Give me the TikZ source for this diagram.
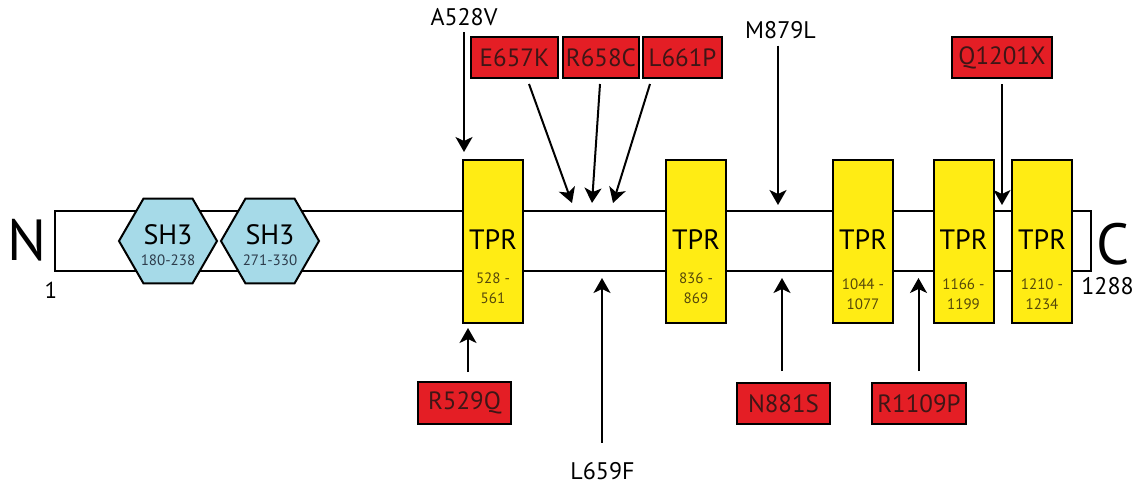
\documentclass[tikz,border=0pt]{standalone}
\usepackage{fontspec}
\setmainfont{PT Sans}
\usetikzlibrary{shapes.geometric,arrows.meta}

\definecolor{dodam}{RGB}{228,30,37}
\definecolor{vang}{RGB}{255,236,20}
\definecolor{xanhnhat}{RGB}{166,218,232}
\definecolor{chudo}{RGB}{62,22,22}
\definecolor{chuvang}{RGB}{85,72,10}
\definecolor{chuxanh}{RGB}{45,60,75}

\tikzset{
  chuoi/.style={draw, line width=1pt, minimum width=518pt, minimum height=30pt, inner sep=0pt},
  miensh/.style={regular polygon, regular polygon sides=6, draw, line width=1pt, fill=xanhnhat, minimum size=49pt, inner sep=0pt},
  mientpr/.style={draw, line width=1pt, fill=vang, minimum width=30pt, minimum height=81.5pt, inner sep=0pt},
  dotbien/.style={draw, line width=1pt, fill=dodam, text=chudo, minimum height=20.5pt, inner sep=0pt, font=\fontsize{12.5}{15}\selectfont},
  nhan/.style={font=\fontsize{12}{14}\selectfont, inner sep=1pt},
  tenmien/.style={font=\fontsize{14}{16}\selectfont, inner sep=0pt},
  vitri/.style={font=\fontsize{7.5}{10}\selectfont, inner sep=0pt, align=center},
  mui/.style={->, line width=1pt},
}

\begin{document}
\begin{tikzpicture}[x=0.5pt, y=-0.5pt, >={Stealth[length=7.5pt,width=8.5pt,inset=2pt]}]
    \useasboundingbox (0,0) rectangle (1136,483);

    % 1. Chuoi protein va hai dau N, C
    \node[chuoi] (chuoi) at (573,241) {};
    \node[font=\fontsize{29}{30}\selectfont, inner sep=0pt] (dauN) at (27.5,240.5) {N};
    \node[font=\fontsize{29}{30}\selectfont, inner sep=0pt] (dauC) at (1113.5,244) {C};
    \node[font=\fontsize{11.5}{13}\selectfont, inner sep=0pt] (so1) at (51,290) {1};
    \node[font=\fontsize{12}{14}\selectfont, inner sep=0pt] (so1288) at (1107.5,286) {1288};

    % 2. Hai mien SH3
    \node[miensh] (sha) at (168,241) {};
    \node[tenmien] at (168,235) {SH3};
    \node[vitri, text=chuxanh] at (168,260.5) {180-238};
    \node[miensh] (shb) at (270,241) {};
    \node[tenmien] at (270,235) {SH3};
    \node[vitri, text=chuxanh] at (270,260.5) {271-330};

    % 3. Nam mien TPR
    \node[mientpr] (tpra) at (493,241.5) {};
    \node[tenmien] at (493,240) {TPR};
    \node[vitri, text=chuvang] at (493,288) {528 -\\561};
    \node[mientpr] (tprb) at (696,241.5) {};
    \node[tenmien] at (696,240) {TPR};
    \node[vitri, text=chuvang] at (696,288) {836 -\\869};
    \node[mientpr] (tprc) at (863,241.5) {};
    \node[tenmien] at (863,240) {TPR};
    \node[vitri, text=chuvang] at (863,294) {1044 -\\1077};
    \node[mientpr] (tprd) at (963.5,241.5) {};
    \node[tenmien] at (963.5,240) {TPR};
    \node[vitri, text=chuvang] at (963.5,294) {1166 -\\1199};
    \node[mientpr] (tpre) at (1042,241.5) {};
    \node[tenmien] at (1042,240) {TPR};
    \node[vitri, text=chuvang] at (1042,294) {1210 -\\1234};

    % 4. Cac dot bien phia tren
    \node[nhan] (a528v) at (464,17) {A528V};
    \node[dotbien, minimum width=43.5pt] (e657k) at (514.5,57.5) {E657K};
    \node[dotbien, minimum width=38pt] (r658c) at (601,57.5) {R658C};
    \node[dotbien, minimum width=39.5pt] (l661p) at (682.5,57.5) {L661P};
    \node[nhan] (m879l) at (780.5,30.5) {M879L};
    \node[dotbien, minimum width=50pt] (q1201x) at (1002,57.5) {Q1201X};

    \coordinate (d528) at (464,152);
    \coordinate (d657) at (572,203);
    \coordinate (d658) at (592,203);
    \coordinate (d661) at (613,203);
    \coordinate (d879) at (778,205);
    \coordinate (d1201) at (1002,205);

    \draw[mui, shorten <=2pt] (a528v.south -| d528) -- (d528);
    \draw[mui] ([xshift=7.25pt,yshift=-2.5pt]e657k.south) -- (d657);
    \draw[mui] ([xshift=-0.5pt,yshift=-2.5pt]r658c.south) -- (d658);
    \draw[mui] ([xshift=-16.25pt,yshift=-2.5pt]l661p.south) -- (d661);
    \draw[mui, shorten <=2pt] (m879l.south -| d879) -- (d879);
    \draw[mui, shorten <=2.5pt] (q1201x.south -| d1201) -- (d1201);

    % 5. Cac dot bien phia duoi
    \node[dotbien, minimum width=46.5pt, minimum height=21pt] (r529q) at (464.5,403) {R529Q};
    \node[nhan] (l659f) at (602.5,471) {L659F};
    \node[dotbien, minimum width=46.5pt] (n881s) at (783.5,403.5) {N881S};
    \node[dotbien, minimum width=47pt] (r1109p) at (919,403.5) {R1109P};

    \coordinate (d529) at (468,328);
    \coordinate (d659) at (602,278);
    \coordinate (d881) at (782,278);
    \coordinate (d1109) at (918.5,278);

    \draw[mui, shorten <=4.5pt] (r529q.north -| d529) -- (d529);
    \draw[mui, shorten <=8.5pt] (l659f.north -| d659) -- (d659);
    \draw[mui, shorten <=5.5pt] (n881s.north -| d881) -- (d881);
    \draw[mui, shorten <=5.5pt] (r1109p.north -| d1109) -- (d1109);

\end{tikzpicture}
\end{document}
